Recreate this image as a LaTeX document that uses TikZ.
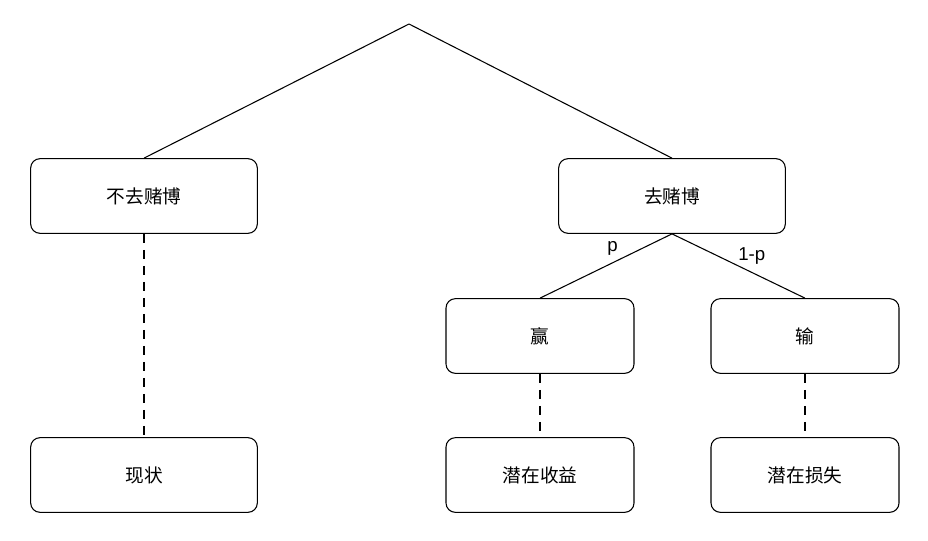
\documentclass[tikz,border=0pt]{standalone}
\usepackage{fontspec}
\setmainfont{Liberation Sans}
\newfontfamily\cjk{Noto Sans CJK SC}
\usetikzlibrary{positioning}
\tikzset{
  box/.style={draw, thick, rounded corners=7pt, minimum width=141pt, minimum height=56pt, font=\cjk\fontsize{14}{16}\selectfont},
  smallbox/.style={box, minimum width=141pt},
  widebox/.style={box, minimum width=170pt},
  branch/.style={thick},
  dashline/.style={thick, dash pattern=on 7pt off 5pt},
  prob/.style={font=\fontsize{14}{16}\selectfont}
}
\begin{document}
\begin{tikzpicture}[x=0.75pt,y=-0.75pt]
  \useasboundingbox (0,0) rectangle (928,540);

  \coordinate (top) at (409,24);

  % first level
  \node[widebox] (stay) at (144,196) {不去赌博};
  \node[widebox] (bet)  at (672,196) {去赌博};

  % outcomes
  \node[smallbox] (win)  at (540,336) {赢};
  \node[smallbox] (lose) at (805,336) {输};

  % results
  \node[widebox]  (now)  at (144,475) {现状};
  \node[smallbox] (gain) at (540,475) {潜在收益};
  \node[smallbox] (loss) at (805,475) {潜在损失};

  \draw[branch] (top) -- (stay.north);
  \draw[branch] (top) -- (bet.north);
  \draw[branch] (bet.south) -- (win.north) node[prob, pos=0.45, above=2pt] {p};
  \draw[branch] (bet.south) -- (lose.north) node[prob, pos=0.6, above=2pt] {1-p};

  \draw[dashline] (stay.south) -- (now.north);
  \draw[dashline] (win.south) -- (gain.north);
  \draw[dashline] (lose.south) -- (loss.north);
\end{tikzpicture}
\end{document}
